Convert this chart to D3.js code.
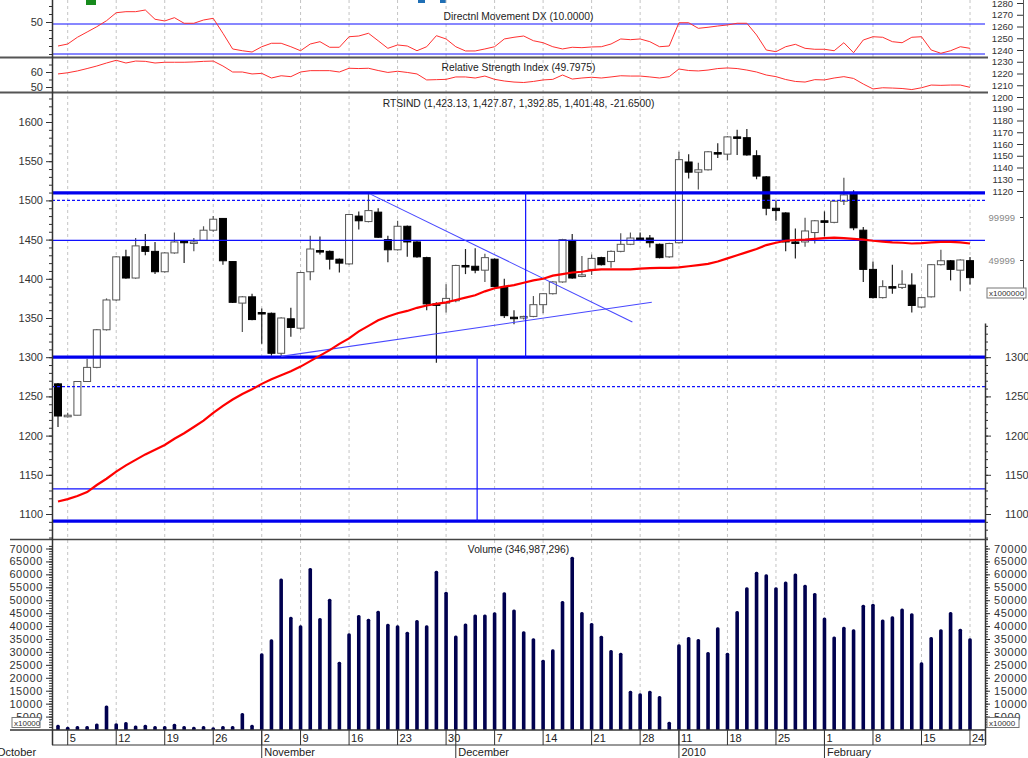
<!DOCTYPE html>
<html>
<head>
<meta charset="utf-8">
<script src="https://cdn.jsdelivr.net/npm/d3@7"></script>
<style>
body { margin: 0; background: #fff; }
svg text { font-family: "Liberation Sans", Arial, sans-serif; }
</style>
</head>
<body>
<svg id="mainSvg" width="1028" height="758"></svg>
<script>

// trading days shown on the chart (RTS, Oct 2009 - Feb 2010)
var tradingDays = [
  "2009-10-02","2009-10-05","2009-10-06","2009-10-07","2009-10-08","2009-10-09",
  "2009-10-12","2009-10-13","2009-10-14","2009-10-15","2009-10-16",
  "2009-10-19","2009-10-20","2009-10-21","2009-10-22","2009-10-23",
  "2009-10-26","2009-10-27","2009-10-28","2009-10-29","2009-10-30",
  "2009-11-02","2009-11-03","2009-11-05","2009-11-06",
  "2009-11-09","2009-11-10","2009-11-11","2009-11-12","2009-11-13",
  "2009-11-16","2009-11-17","2009-11-18","2009-11-19","2009-11-20",
  "2009-11-23","2009-11-24","2009-11-25","2009-11-26","2009-11-27",
  "2009-11-30","2009-12-01","2009-12-02","2009-12-03","2009-12-04",
  "2009-12-07","2009-12-08","2009-12-09","2009-12-10","2009-12-11",
  "2009-12-14","2009-12-15","2009-12-16","2009-12-17","2009-12-18",
  "2009-12-21","2009-12-22","2009-12-23","2009-12-24","2009-12-25",
  "2009-12-28","2009-12-29","2009-12-30","2009-12-31",
  "2010-01-11","2010-01-12","2010-01-13","2010-01-14","2010-01-15",
  "2010-01-18","2010-01-19","2010-01-20","2010-01-21","2010-01-22",
  "2010-01-25","2010-01-26","2010-01-27","2010-01-28","2010-01-29",
  "2010-02-01","2010-02-02","2010-02-03","2010-02-04","2010-02-05",
  "2010-02-08","2010-02-09","2010-02-10","2010-02-11","2010-02-12",
  "2010-02-15","2010-02-16","2010-02-17","2010-02-18","2010-02-19",
  "2010-02-24"
];

var openPrices = [1266,1224,1226,1269,1287,1335,1373,1428,1401,1441,
  1435,1409,1433,1448,1446,1449,1462,1477,1422,1369,
  1377,1357,1356,1305,1349,1337,1409,1436,1435,1425,
  1419,1480,1473,1485,1450,1437,1467,1447,1427,1368,
  1369,1372,1417,1416,1411,1425,1389,1351,1350,1352,
  1367,1381,1396,1449,1403,1412,1427,1422,1435,1444,
  1452,1452,1444,1428,1446,1549,1536,1539,1561,1559,
  1581,1580,1557,1530,1490,1484,1447,1447,1459,1474,
  1472,1499,1508,1462,1412,1376,1390,1389,1392,1364,
  1377,1418,1423,1411,1423.13];
var highPrices = [1267,1229,1269,1298,1336,1375,1429,1437,1452,1457,
  1447,1434,1459,1449,1452,1467,1480,1477,1422,1378,
  1381,1362,1357,1351,1363,1409,1455,1454,1436,1426,
  1483,1486,1508,1490,1455,1474,1468,1448,1428,1370,
  1393,1418,1438,1439,1432,1426,1400,1360,1353,1378,
  1382,1397,1451,1457,1429,1431,1428,1436,1458,1459,
  1459,1456,1445,1446,1562,1559,1548,1563,1573,1582,
  1590,1591,1564,1531,1500,1485,1464,1478,1475,1486,
  1500,1529,1513,1466,1422,1398,1418,1411,1407,1377,
  1419,1437,1424,1425,1427.87];
var lowPrices = [1211,1223,1226,1269,1286,1334,1372,1400,1400,1430,
  1406,1408,1432,1420,1435,1449,1460,1418,1369,1332,
  1347,1317,1302,1302,1326,1335,1398,1431,1412,1408,
  1418,1463,1472,1452,1421,1436,1428,1427,1360,1293,
  1357,1370,1406,1407,1396,1389,1350,1342,1348,1351,
  1356,1380,1395,1400,1402,1405,1417,1414,1434,1443,
  1451,1440,1426,1427,1445,1528,1514,1538,1554,1551,
  1558,1557,1527,1481,1474,1435,1426,1441,1445,1454,
  1471,1494,1462,1396,1375,1375,1381,1387,1357,1363,
  1376,1417,1398,1384,1392.85];
var closePrices = [1225,1226,1269,1287,1335,1373,1428,1401,1442,1435,
  1409,1433,1447,1446,1447,1462,1476,1423,1370,1377,
  1348,1356,1305,1350,1338,1408,1438,1435,1425,1420,
  1482,1474,1487,1453,1437,1467,1447,1428,1368,1367,
  1375,1417,1416,1411,1427,1390,1353,1350,1352,1367,
  1381,1396,1450,1401,1405,1426,1418,1435,1444,1452,
  1451.5,1446,1427,1445,1552,1536,1539,1562,1560.5,1581,
  1580.5,1558,1531,1490,1487,1447,1446.5,1461,1474,1472,
  1499,1507,1465,1412,1376,1390,1389,1393,1366,1376,
  1418,1423,1412,1424,1401.48];

// red moving average over the candles
var movingAverage = [1116,1119,1123,1128,1137,1145,1154,1162,1169,1176,
  1182,1188,1196,1203,1211,1219,1229,1238,1246,1253,
  1259,1266,1272,1277,1282,1288,1295,1302,1309,1317,
  1324,1333,1340,1347,1352,1356,1359,1363,1366,1368,
  1370,1373,1376,1379,1384,1388,1390,1392,1395,1398,
  1400,1404,1406,1408,1409,1411,1412,1412,1412,1412,
  1413,1413.5,1414,1414,1414.5,1416,1417.5,1419,1422,1426,
  1430,1434,1438,1443,1446,1448.5,1449.5,1450,1451,1452,
  1452.5,1452,1451,1450,1448.5,1447.5,1446.5,1446,1445,1445.5,
  1446.5,1447,1447,1446.5,1445];

var dxValues = [20,22.5,30.9,37.5,44.1,51.6,61.6,62.9,62.9,65,
  53.4,51.3,55.4,48.4,48.4,52.5,54.6,35.9,16.3,14.1,
  12.5,19.1,23.4,23.4,19.1,14.1,22.5,25.4,18.4,18.4,
  31.6,32.5,35.9,26.6,17.1,21.3,20,14.1,19.1,32.9,
  28.8,19.1,13.8,13.8,16.3,19.1,28.8,30.9,32.5,26.6,
  24.1,19.1,16.3,18.4,17.9,18.8,19.1,22.5,28.8,27.9,
  28.8,25.4,19.1,20,49.1,49.1,42.1,43.4,45,46.3,
  48.4,48.4,33.8,15,12.9,19.1,22.1,17.1,15.9,15.9,
  14.1,24.1,11.6,27.5,31.6,30.9,25.4,24.1,30.9,31.6,
  15,10.9,14.1,19.1,17.1];

var rsiValues = [58.7,59.5,60.7,62.3,64,66,67.8,66,67.3,67.1,
  66,66.5,66.5,66.5,66.7,67.1,67.3,64,60,60,
  58.7,59.1,56,57.5,56.9,60,60.9,60.9,60.9,60,
  62.5,62.3,62.5,61,59.7,60.5,59.7,58.7,54.7,54.9,
  55.1,56.7,56.7,56,57.3,55.1,54,53.3,53,53.7,
  54.7,55.1,58,55.3,56,56.5,56,56.7,57.5,57.3,
  57.3,56.7,56,56.9,62,61,60.7,61.3,62.3,62.7,
  62.3,61.3,60,58,56.9,55,53.7,53.3,54.9,54.7,
  56,56.9,55.7,52,48.7,49.5,49.3,49,48.3,49.5,
  51.3,51.1,51.3,51.3,49.8];

var volumeValues = [1800,1100,1400,1400,2300,9300,2400,2900,1500,1800,
  1400,1400,2200,1400,1100,1400,900,1400,1400,6400,
  1800,29500,34900,58400,43600,40300,62500,43100,50600,26200,
  37200,44300,42800,45900,40900,40300,37800,42300,40300,61400,
  53300,36400,41000,44500,44500,45300,53100,46400,38000,35300,
  27000,31000,49700,66800,45400,41200,36300,30700,29700,15000,
  14000,15000,13000,3000,33000,35800,35000,30000,39500,29700,
  45800,55000,61000,60000,55000,57200,60300,56000,52800,43300,
  36000,39700,38800,48200,48600,42500,43800,46800,45000,26000,
  35800,38800,45400,39000,35300];

// drawn studies: levels (price), trend lines (bar index, price)
var thickLevels = [1509.5, 1300, 1091];
var thinLevels = [1449, 1132];
var dashedLevels = [1500, 1262.5];
var dxLevels = [47.5, 10];
var trendLines = [
  [[32.2, 1508], [59.2, 1345]],
  [[23, 1301], [61.2, 1370]]
];
var verticalMarks = [
  {at: 48.2, from: 1509.5, to: 1300},
  {at: 43.2, from: 1300, to: 1091}
];

var priceLabels = [1100,1150,1200,1250,1300,1350,1400,1450,1500,1550,1600];
var rightPriceLabels = [1100,1150,1200,1250,1300];
var volumeLabels = [5000,10000,15000,20000,25000,30000,35000,40000,45000,50000,55000,60000,65000,70000];
var overlayLabels = [1120,1130,1140,1150,1160,1170,1180,1190,1200,1210,1220,1230,1240,1250,1260,1270,1280];
var overlayVolLabels = [49999, 99999];
var monthNames = ["January","February","March","April","May","June","July","August","September","October","November","December"];

var titleDx = "Directnl Movement DX (10.0000)";
var titleRsi = "Relative Strength Index (49.7975)";
var titlePrice = "RTSIND (1,423.13, 1,427.87, 1,392.85, 1,401.48, -21.6500)";
var titleVol = "Volume (346,987,296)";

var svg = d3.select("#mainSvg");
var left = 52, right = 985;
var mid = (left + right) / 2;

var days = tradingDays.map(d3.timeParse("%Y-%m-%d"));

var x = d3.scaleLinear().domain([0, tradingDays.length - 1]).range([58, 970]);
var yDx = d3.scaleLinear().domain([0, 60]).range([62, 14]);
var yRsi = d3.scaleLinear().domain([50, 60]).range([87, 72]);
var yPrice = d3.scaleLinear().domain([1100, 1600]).range([514, 122]);
var yVol = d3.scaleLinear().domain([0, 70000]).range([729.5, 548.5]);
var yOverlay = d3.scaleLinear().domain([1120, 1280]).range([191, 3]);
var yOverlayVol = d3.scaleLinear().domain([0, 99999]).range([303, 217]);

// clip regions for each pane
var defs = svg.append("defs");
var panes = {dx: [0, 57], rsi: [58, 92], price: [93, 539], vol: [540, 730]};
Object.keys(panes).forEach(function(k){
  defs.append("clipPath").attr("id", "clip_" + k)
    .append("rect")
    .attr("x", left).attr("y", panes[k][0])
    .attr("width", right - left).attr("height", panes[k][1] - panes[k][0]);
});

// week starts and month starts from the trading days
var weekStarts = [], monthStarts = [0];
days.forEach(function(d, i){
  if (i == 0) return;
  var prev = days[i-1];
  if (d.getDay() <= prev.getDay() || (d - prev) > 6 * 864e5) weekStarts.push(i);
  if (d.getMonth() != prev.getMonth()) monthStarts.push(i);
});

// logo scraps at the very top
svg.append("rect").attr("x", 86).attr("y", 0).attr("width", 10).attr("height", 5).attr("fill", "#178a1c");
svg.append("rect").attr("x", 418).attr("y", 0).attr("width", 7).attr("height", 3).attr("fill", "#1f6fb5");
svg.append("rect").attr("x", 440).attr("y", 0).attr("width", 6).attr("height", 3).attr("fill", "#1f6fb5");

// dashed weekly grid
svg.append("g").selectAll("line")
  .data(weekStarts)
  .enter().append("line")
  .attr("x1", function(i){ return x(i); })
  .attr("x2", function(i){ return x(i); })
  .attr("y1", 0).attr("y2", 730)
  .attr("stroke", "#c4c4c4")
  .attr("stroke-dasharray", "3,3");

// ---- DX pane
var dxG = svg.append("g").attr("clip-path", "url(#clip_dx)");
dxG.selectAll("line.lvl").data(dxLevels).enter().append("line")
  .attr("x1", left).attr("x2", right)
  .attr("y1", function(d){ return yDx(d); }).attr("y2", function(d){ return yDx(d); })
  .attr("stroke", "#1010ff").attr("stroke-width", 1.2);
dxG.append("path")
  .datum(dxValues)
  .attr("fill", "none").attr("stroke", "#ff3030").attr("stroke-width", 1)
  .attr("d", d3.line().x(function(d, i){ return x(i); }).y(function(d){ return yDx(d); }));

// ---- RSI pane
var rsiG = svg.append("g").attr("clip-path", "url(#clip_rsi)");
rsiG.append("path")
  .datum(rsiValues)
  .attr("fill", "none").attr("stroke", "#ff3030").attr("stroke-width", 1)
  .attr("d", d3.line().x(function(d, i){ return x(i); }).y(function(d){ return yRsi(d); }));

// ---- price pane
var priceG = svg.append("g").attr("clip-path", "url(#clip_price)");
var idx = d3.range(tradingDays.length);

priceG.selectAll("line.wick").data(idx).enter().append("line")
  .attr("x1", function(i){ return x(i); }).attr("x2", function(i){ return x(i); })
  .attr("y1", function(i){ return yPrice(highPrices[i]); })
  .attr("y2", function(i){ return yPrice(lowPrices[i]); })
  .attr("stroke", function(i){ return closePrices[i] >= openPrices[i] ? "#555" : "#222"; })
  .attr("stroke-width", 1.2);

priceG.selectAll("rect.body").data(idx).enter().append("rect")
  .attr("x", function(i){ return x(i) - 3.5; })
  .attr("width", 7)
  .attr("y", function(i){ return yPrice(Math.max(openPrices[i], closePrices[i])); })
  .attr("height", function(i){ return Math.max(1.5, Math.abs(yPrice(openPrices[i]) - yPrice(closePrices[i]))); })
  .attr("fill", function(i){ return closePrices[i] >= openPrices[i] ? "#fff" : "#000"; })
  .attr("stroke", function(i){ return closePrices[i] >= openPrices[i] ? "#555" : "#000"; })
  .attr("stroke-width", 1);

// horizontal levels
priceG.selectAll("line.thick").data(thickLevels).enter().append("line")
  .attr("x1", left).attr("x2", right)
  .attr("y1", function(d){ return yPrice(d); }).attr("y2", function(d){ return yPrice(d); })
  .attr("stroke", "#0000ee").attr("stroke-width", 3.2);
priceG.selectAll("line.thin").data(thinLevels).enter().append("line")
  .attr("x1", left).attr("x2", right)
  .attr("y1", function(d){ return yPrice(d); }).attr("y2", function(d){ return yPrice(d); })
  .attr("stroke", "#1010ff").attr("stroke-width", 1.2);
priceG.selectAll("line.dash").data(dashedLevels).enter().append("line")
  .attr("x1", left).attr("x2", right)
  .attr("y1", function(d){ return yPrice(d); }).attr("y2", function(d){ return yPrice(d); })
  .attr("stroke", "#1010ff").attr("stroke-width", 1.2).attr("stroke-dasharray", "3,2");

// trend lines and vertical markers
priceG.selectAll("line.trend").data(trendLines).enter().append("line")
  .attr("x1", function(d){ return x(d[0][0]); }).attr("y1", function(d){ return yPrice(d[0][1]); })
  .attr("x2", function(d){ return x(d[1][0]); }).attr("y2", function(d){ return yPrice(d[1][1]); })
  .attr("stroke", "#4848ff").attr("stroke-width", 1.1);
priceG.selectAll("line.vmark").data(verticalMarks).enter().append("line")
  .attr("x1", function(d){ return x(d.at); }).attr("x2", function(d){ return x(d.at); })
  .attr("y1", function(d){ return yPrice(d.from); }).attr("y2", function(d){ return yPrice(d.to); })
  .attr("stroke", "#1010ff").attr("stroke-width", 1.2);

// moving average
priceG.append("path")
  .datum(movingAverage)
  .attr("fill", "none").attr("stroke", "#ff0000").attr("stroke-width", 2.2)
  .attr("d", d3.line().x(function(d, i){ return x(i); }).y(function(d){ return yPrice(d); }));

// ---- volume pane
var volG = svg.append("g").attr("clip-path", "url(#clip_vol)");
volG.selectAll("rect").data(volumeValues).enter().append("rect")
  .attr("x", function(d, i){ return x(i) - 1.8; })
  .attr("width", 3.6)
  .attr("y", function(d){ return yVol(d); })
  .attr("height", function(d){ return yVol(0) - yVol(d) + 2; })
  .attr("rx", 1.5)
  .attr("fill", "#00004f");

// ---- pane separators
[57.5, 92.5].forEach(function(yy){
  svg.append("line").attr("x1", 0).attr("x2", 988).attr("y1", yy).attr("y2", yy)
    .attr("stroke", "#555").attr("stroke-width", 2);
});
svg.append("line").attr("x1", 10).attr("x2", 988).attr("y1", 539.5).attr("y2", 539.5)
  .attr("stroke", "#444").attr("stroke-width", 1.5);

// ---- titles
var titles = [[titleDx, 19.5], [titleRsi, 71], [titlePrice, 107], [titleVol, 553]];
titles.forEach(function(t){
  svg.append("text").attr("x", mid).attr("y", t[1])
    .attr("text-anchor", "middle").attr("font-size", "10.3px").attr("fill", "#222")
    .text(t[0]);
});

// ---- axes helpers
function styleAxis(g, size){
  g.select(".domain").remove();
  g.selectAll("text").attr("font-size", size || "11px").attr("fill", "#333");
  g.selectAll("line").attr("stroke", "#333");
}

function addLeft(scale, majors, minors, fmt, ls){
  var g = svg.append("g").attr("transform", "translate(" + left + ",0)");
  g.call(d3.axisLeft(scale).tickValues(minors).tickSize(3).tickFormat(""));
  styleAxis(g);
  var g2 = svg.append("g").attr("transform", "translate(" + left + ",0)");
  g2.call(d3.axisLeft(scale).tickValues(majors).tickSize(6).tickPadding(3).tickFormat(fmt || d3.format("d")));
  styleAxis(g2);
  if (ls) g2.selectAll("text").attr("letter-spacing", ls);
  return g2;
}

// left axes
addLeft(yDx, [50], [10, 20, 30, 40, 60, 70]);
addLeft(yRsi, [50, 60], [55, 65]);
addLeft(yPrice, priceLabels, d3.range(1070, 1640, 10));
addLeft(yVol, volumeLabels, d3.range(1000, 72000, 1000), null, "0.6px");

svg.append("line").attr("x1", left + 0.5).attr("x2", left + 0.5).attr("y1", 0).attr("y2", 745)
  .attr("stroke", "#333").attr("stroke-width", 1.5);

// multiplier boxes
function multBox(bx, by, w, label){
  svg.append("rect").attr("x", bx).attr("y", by).attr("width", w).attr("height", 10)
    .attr("fill", "#fff").attr("stroke", "#777");
  svg.append("text").attr("x", bx + 2).attr("y", by + 8).attr("font-size", "8px").attr("fill", "#333").text(label);
}
multBox(12, 717.5, 28, "x10000");

// right price axis (lower part only)
var rp = svg.append("g").attr("transform", "translate(" + right + ",0)");
rp.call(d3.axisRight(yPrice).tickValues(d3.range(1070, 1350, 10)).tickSize(3).tickFormat(""));
styleAxis(rp);
var rp2 = svg.append("g").attr("transform", "translate(" + right + ",0)");
rp2.call(d3.axisRight(yPrice).tickValues(rightPriceLabels).tickSize(6).tickPadding(14).tickFormat(d3.format("d")));
styleAxis(rp2);
svg.append("line").attr("x1", right + 0.5).attr("x2", right + 0.5)
  .attr("y1", yPrice(1343)).attr("y2", 539).attr("stroke", "#333").attr("stroke-width", 1.5);

// right volume axis
var rv = svg.append("g").attr("transform", "translate(" + right + ",0)");
rv.call(d3.axisRight(yVol).tickValues(d3.range(1000, 72000, 1000)).tickSize(3).tickFormat(""));
styleAxis(rv);
var rv2 = svg.append("g").attr("transform", "translate(" + right + ",0)");
rv2.call(d3.axisRight(yVol).tickValues(volumeLabels).tickSize(5).tickPadding(4).tickFormat(d3.format("d")));
styleAxis(rv2);
rv2.selectAll("text").attr("letter-spacing", "0.6px");
svg.append("line").attr("x1", right + 0.5).attr("x2", right + 0.5)
  .attr("y1", 540).attr("y2", 745).attr("stroke", "#333").attr("stroke-width", 1.5);
multBox(987, 717.5, 32, "x10000");

// overlay axis top right
var ov = svg.append("g").attr("transform", "translate(1023,0)");
ov.call(d3.axisLeft(yOverlay).tickValues(overlayLabels).tickSize(6).tickPadding(4).tickFormat(d3.format("d")));
styleAxis(ov, "9.5px");
svg.append("line").attr("x1", 1023.5).attr("x2", 1023.5).attr("y1", 0).attr("y2", 300)
  .attr("stroke", "#555").attr("stroke-width", 1);
var ov2 = svg.append("g").attr("transform", "translate(1023,0)");
ov2.call(d3.axisLeft(yOverlayVol).tickValues(overlayVolLabels).tickSize(3).tickPadding(5).tickFormat(d3.format("d")));
styleAxis(ov2, "9.5px");
ov2.selectAll("text").attr("fill", "#888");
multBox(987, 288, 39, "x1000000");

// ---- date axis
svg.append("line").attr("x1", 10).attr("x2", right).attr("y1", 730).attr("y2", 730).attr("stroke", "#333").attr("stroke-width", 1.5);
svg.append("line").attr("x1", left).attr("x2", right).attr("y1", 745).attr("y2", 745).attr("stroke", "#333").attr("stroke-width", 1);

var dateAxis = svg.append("g");
dateAxis.selectAll("line.wk").data(weekStarts).enter().append("line")
  .attr("x1", function(i){ return x(i); }).attr("x2", function(i){ return x(i); })
  .attr("y1", 730).attr("y2", 745).attr("stroke", "#333");
dateAxis.selectAll("text.wk").data(weekStarts).enter().append("text")
  .attr("x", function(i){ return x(i) + 2; }).attr("y", 742)
  .attr("font-size", "11px").attr("fill", "#222")
  .text(function(i){ return days[i].getDate(); });

dateAxis.selectAll("line.mo").data(monthStarts.slice(1)).enter().append("line")
  .attr("x1", function(i){ return x(i); }).attr("x2", function(i){ return x(i); })
  .attr("y1", 730).attr("y2", 758).attr("stroke", "#333");
dateAxis.selectAll("text.mo").data(monthStarts).enter().append("text")
  .attr("x", function(i){ return i == 0 ? -3 : x(i) + 2.5; }).attr("y", 756)
  .attr("font-size", "11px").attr("fill", "#222")
  .text(function(i){
    var d = days[i];
    return d.getMonth() == 0 ? d.getFullYear() : monthNames[d.getMonth()];
  });

</script>
</body>
</html>
